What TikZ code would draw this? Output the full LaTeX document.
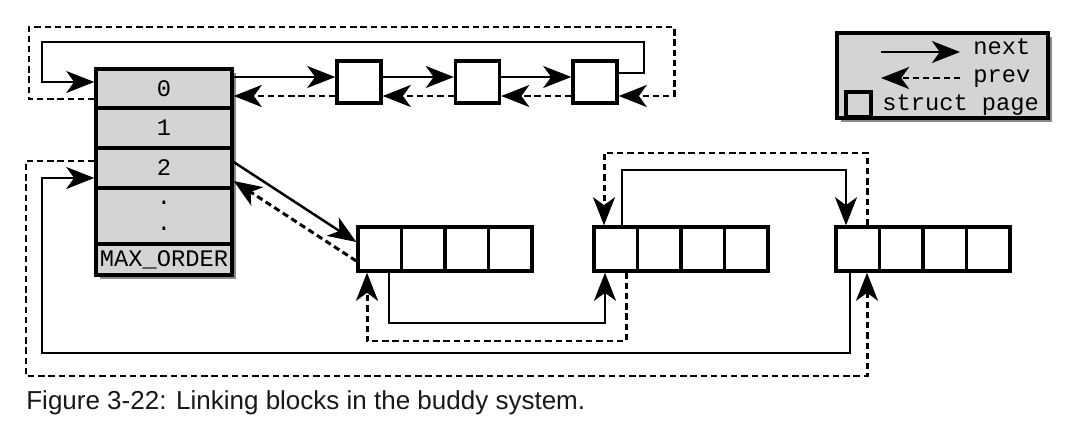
\documentclass[tikz,border=0pt]{standalone}
\usepackage{fontspec}
\setmainfont{Liberation Sans}
\setmonofont{Liberation Mono}
\usetikzlibrary{arrows.meta}
\definecolor{boxgray}{HTML}{D4D4D4}
\definecolor{shadegray}{HTML}{8A8A8A}
\definecolor{captext}{HTML}{1A1718}
\tikzset{
  ordbox/.style={draw, line width=1.9pt, fill=boxgray, minimum width=2.72cm, inner sep=0pt,
    font=\fontsize{13.5}{14.7}\selectfont\ttfamily, align=center},
  pagebox/.style={draw, line width=1.9pt, fill=white, minimum width=0.88cm, minimum height=0.84cm, inner sep=0pt},
  cell/.style={draw, line width=1.9pt, fill=white, minimum width=0.87cm, minimum height=0.88cm, inner sep=0pt},
  nxt/.style={line width=1.4pt, -{Stealth[length=16pt,width=12.5pt,inset=4.5pt]}},
  prv/.style={nxt, line width=1.7pt, dash pattern=on 3.6pt off 2.2pt},
  legtext/.style={font=\fontsize{13.5}{14.7}\selectfont\ttfamily, anchor=base west, inner sep=0pt}
}
\begin{document}
\begin{tikzpicture}[x=0.02cm, y=-0.02cm]
      \useasboundingbox (0,0) rectangle (1070,425);
      \fill[shadegray] (100,73) rectangle (236,279);
      \node[ordbox, minimum height=0.78cm] (o0) at (164,88.5) {0};
      \node[ordbox, minimum height=0.80cm] (o1) at (164,128) {1};
      \node[ordbox, minimum height=0.80cm] (o2) at (164,168) {2};
      \node[ordbox, minimum height=1.12cm] (odots) at (164,216) {.\\.};
      \node[ordbox, minimum height=0.62cm] (omax) at (164,259.5) {MAX\_ORDER};
      \node[pagebox] (p1) at (359,82) {};
      \node[pagebox] (p2) at (477.5,82) {};
      \node[pagebox] (p3) at (595,82) {};
      \foreach \blk/\x in {a/358,b/594,c/836}
        \foreach \i in {1,...,4}
          \node[cell] (\blk\i) at ({\x+43.5*\i-21.75},249) {};
      \draw[nxt] (o0.east |- 0,77) -- (p1.west |- 0,77);
      \draw[nxt] (p1.east |- 0,77) -- (p2.west |- 0,77);
      \draw[nxt] (p2.east |- 0,77) -- (p3.west |- 0,77);
      \draw[prv] (p1.west |- 0,96) -- (o0.east |- 0,96);
      \draw[prv] (p2.west |- 0,96) -- (p1.east |- 0,96);
      \draw[prv] (p3.west |- 0,96) -- (p2.east |- 0,96);
      \draw[nxt] (p3.east |- 0,73) -| (644,42) -| (42,82) -- (o0.west |- 0,82);
      \draw[prv] (o0.west |- 0,99) -| (29,27) -| (674,96) -- (p3.east |- 0,96);
      \draw[nxt] (o2.east |- 0,162) -- (a1.west |- 0,242);
      \draw[prv] (a1.west |- 0,261) -- (o2.east |- 0,181);
      \draw[nxt] (a1.south -| 389,0) |- (605,323) -- (b1.south -| 605,0);
      \draw[prv] (b1.south -| 626,0) |- (367,341) -- (a1.south -| 367,0);
      \draw[nxt] (b1.north -| 622,0) |- (846,170) -- (c1.north -| 846,0);
      \draw[prv] (c1.north -| 867,0) |- (604,153) -- (b1.north -| 604,0);
      \draw[nxt] (c1.south -| 850,0) |- (42,353) |- (o2.west |- 0,178);
      \draw[prv] (o2.west |- 0,161) -| (26,376) -| (c1.south -| 867,0);
      \fill[shadegray] (841,37) rectangle (1052,122);
      \node[draw, line width=1.9pt, fill=boxgray, minimum width=4.22cm, minimum height=1.7cm, inner sep=0pt] (legend) at (942.5,75.5) {};
      \node[legtext] (lnext) at (973,55) {next};
      \node[legtext] (lprev) at (973,83) {prev};
      \node[draw, line width=1.9pt, minimum width=0.5cm, minimum height=0.5cm, inner sep=0pt] (lpage) at (858.5,104.5) {};
      \node[legtext] (lstruct) at (882,111) {struct page};
      \coordinate (nxstart) at (881,52);
      \coordinate (nxend) at (960,52);
      \coordinate (pvstart) at (960,78);
      \coordinate (pvend) at (881,78);
      \draw[nxt] (nxstart) -- (nxend);
      \draw[prv] (pvstart) -- (pvend);
      \node[anchor=base west, inner sep=0pt, text=captext, font=\fontsize{14.8}{17}\selectfont] (caption) at (26,409) {Figure 3-22: Linking blocks in the buddy system.};
    \end{tikzpicture}
\end{document}
